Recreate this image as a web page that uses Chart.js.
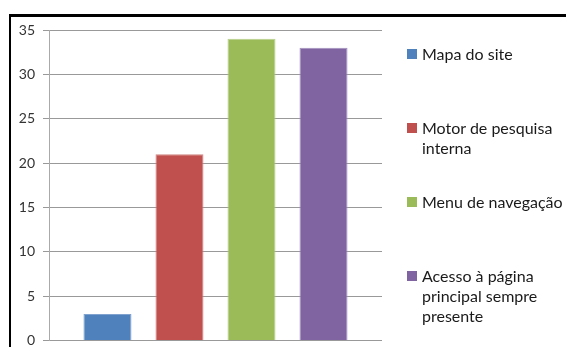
<!DOCTYPE html>
<html>
<head>
<meta charset="utf-8">
<script src="https://cdn.jsdelivr.net/npm/chart.js@4.4.1/dist/chart.umd.min.js"></script>
<style>
  html, body { margin: 0; padding: 0; background: #fff; }
  #wrap { position: relative; width: 566px; height: 347px; overflow: hidden; }
  #moldura { position: absolute; left: 9px; top: 14px; width: 600px; height: 400px;
             border-left: 2px solid #000; border-top: 3px solid #000; box-sizing: border-box; }
  #grafico { position: absolute; left: 0; top: 0; }
  #legenda { position: absolute; left: 407px; top: 44px; font-family: Lato, sans-serif;
             font-size: 16px; line-height: 20px; color: #1a1a1a; }
  .item { position: relative; height: 74px; padding-left: 15px; white-space: nowrap; }
  .item span.cor { position: absolute; left: 0; top: 5px; width: 10px; height: 10px; }
</style>
</head>
<body>
<div id="wrap">
  <div id="moldura"></div>
  <canvas id="grafico" width="566" height="357"></canvas>
  <div id="legenda"></div>
</div>
<script>
// dados do gráfico (uma categoria, quatro séries)
const categorias = [''];
const series = ['Mapa do site', 'Motor de pesquisa interna', 'Menu de navegação', 'Acesso à página principal sempre presente'];
const valores = [3, 21, 34, 33];
const cores = ['#4F81BD', '#C0504D', '#9BBB59', '#8064A2'];
const bordas = ['#7FA2CE', '#D08684', '#B8D08A', '#A28FBE'];
// linhas da legenda, como quebradas na figura
const linhasLegenda = [['Mapa do site'], ['Motor de pesquisa', 'interna'], ['Menu de navegação'], ['Acesso à página', 'principal sempre', 'presente']];
const ticksY = [0, 5, 10, 15, 20, 25, 30, 35];

const ctx = document.getElementById('grafico').getContext('2d');

const datasets = series.map((nome, i) => ({
    label: nome,
    data: [valores[i]],
    backgroundColor: cores[i],
    borderColor: bordas[i],
    borderWidth: 1,
    categoryPercentage: 0.865,
    barPercentage: 0.667
}));

new Chart(ctx, {
    type: 'bar',
    data: { labels: categorias, datasets: datasets },
    options: {
        responsive: false,
        animation: false,
        layout: { padding: { left: 0, right: 184, top: 30, bottom: 7 } },
        plugins: { legend: { display: false }, tooltip: { enabled: false } },
        scales: {
            x: { display: false },
            y: {
                min: 0,
                max: 35,
                afterFit: scale => { scale.width = 49; },
                afterBuildTicks: scale => { scale.ticks = ticksY.map(v => ({ value: v })); },
                ticks: { color: '#333', padding: 8, font: { family: 'Lato', size: 14 } },
                grid: { color: '#999', tickLength: 6, drawTicks: true },
                border: { display: true, color: '#aaa', width: 1 }
            }
        }
    }
});

// legenda em HTML
const legenda = document.getElementById('legenda');
series.forEach((nome, i) => {
    const item = document.createElement('div');
    item.className = 'item';
    const cor = document.createElement('span');
    cor.className = 'cor';
    cor.style.background = cores[i];
    item.appendChild(cor);
    linhasLegenda[i].forEach(linha => {
        const l = document.createElement('div');
        l.textContent = linha;
        item.appendChild(l);
    });
    legenda.appendChild(item);
});
</script>
</body>
</html>
